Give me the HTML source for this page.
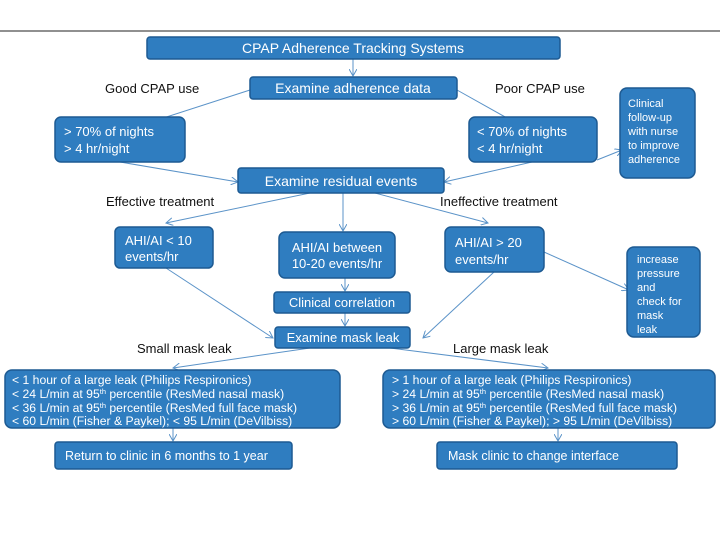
<!DOCTYPE html>
<html><head><meta charset="utf-8"><style>
html,body{margin:0;padding:0;background:#fff;}
svg{display:block;font-family:"Liberation Sans",sans-serif;}
.b{fill:#2f7dc0;stroke:#1d5a92;stroke-width:1.5;}
.t{fill:#fff;}
.l{stroke:#5b93c8;stroke-width:1;fill:none;marker-end:url(#a);}
.k{fill:#111;font-size:13px;}
</style></head><body>
<svg width="720" height="540" viewBox="0 0 720 540">
<defs><marker id="a" markerWidth="8" markerHeight="8" refX="7" refY="4" orient="auto"><path d="M0,0 L7,4 L0,8" fill="none" stroke="#5b93c8" stroke-width="1"/></marker></defs>
<line x1="0" y1="31" x2="720" y2="31" stroke="#222" stroke-width="1"/>
<path class="l" d="M353,59 L353,76"/>
<path class="l" d="M250,90 L120,132"/>
<path class="l" d="M457,90 L532,132"/>
<path class="l" d="M597,160 L622,150"/>
<path class="l" d="M120,162 L238,182"/>
<path class="l" d="M532,162 L444,182"/>
<path class="l" d="M310,193 L166,223"/>
<path class="l" d="M343,193 L343,231"/>
<path class="l" d="M375,193 L488,223"/>
<path class="l" d="M544,252 L629,290"/>
<path class="l" d="M345,278 L345,291"/>
<path class="l" d="M345,313 L345,326"/>
<path class="l" d="M166,268 L273,338"/>
<path class="l" d="M494,272 L423,338"/>
<path class="l" d="M310,348 L173,368"/>
<path class="l" d="M390,348 L548,368"/>
<path class="l" d="M173,428 L173,441"/>
<path class="l" d="M558,428 L558,441"/>
<rect class="b" x="147" y="37" width="413" height="22" rx="3"/>
<text class="t" x="353" y="53" font-size="14" text-anchor="middle">CPAP Adherence Tracking Systems</text>
<rect class="b" x="250" y="77" width="207" height="22" rx="3"/>
<text class="t" x="353" y="93" font-size="14" text-anchor="middle">Examine adherence data</text>
<text class="k" x="105" y="93">Good CPAP use</text>
<text class="k" x="495" y="93">Poor CPAP use</text>
<rect class="b" x="55" y="117" width="130" height="45" rx="6"/>
<text class="t" x="64" y="136" font-size="13">&gt; 70% of nights</text>
<text class="t" x="64" y="153" font-size="13">&gt; 4 hr/night</text>
<rect class="b" x="469" y="117" width="128" height="45" rx="6"/>
<text class="t" x="477" y="136" font-size="13">&lt; 70% of nights</text>
<text class="t" x="477" y="153" font-size="13">&lt; 4 hr/night</text>
<rect class="b" x="620" y="88" width="75" height="90" rx="7"/>
<g class="t" font-size="11"><text x="628" y="107">Clinical</text><text x="628" y="121">follow-up</text><text x="628" y="135">with nurse</text><text x="628" y="149">to improve</text><text x="628" y="163">adherence</text></g>
<rect class="b" x="238" y="168" width="206" height="25" rx="3"/>
<text class="t" x="341" y="186" font-size="14" text-anchor="middle">Examine residual events</text>
<text class="k" x="106" y="206">Effective treatment</text>
<text class="k" x="440" y="206">Ineffective treatment</text>
<rect class="b" x="115" y="227" width="98" height="41" rx="5"/>
<text class="t" x="125" y="245" font-size="13">AHI/AI &lt; 10</text>
<text class="t" x="125" y="261" font-size="13">events/hr</text>
<rect class="b" x="279" y="232" width="116" height="46" rx="6"/>
<text class="t" x="337" y="252" font-size="13" text-anchor="middle">AHI/AI between</text>
<text class="t" x="337" y="268" font-size="13" text-anchor="middle">10-20 events/hr</text>
<rect class="b" x="445" y="227" width="99" height="45" rx="6"/>
<text class="t" x="455" y="247" font-size="13">AHI/AI &gt; 20</text>
<text class="t" x="455" y="264" font-size="13">events/hr</text>
<rect class="b" x="627" y="247" width="73" height="90" rx="7"/>
<g class="t" font-size="11"><text x="637" y="263">increase</text><text x="637" y="277">pressure</text><text x="637" y="291">and</text><text x="637" y="305">check for</text><text x="637" y="319">mask</text><text x="637" y="333">leak</text></g>
<rect class="b" x="274" y="292" width="136" height="21" rx="3"/>
<text class="t" x="342" y="307" font-size="13" text-anchor="middle">Clinical correlation</text>
<rect class="b" x="275" y="327" width="135" height="21" rx="3"/>
<text class="t" x="343" y="342" font-size="13" text-anchor="middle">Examine mask leak</text>
<text class="k" x="137" y="353">Small mask leak</text>
<text class="k" x="453" y="353">Large mask leak</text>
<rect class="b" x="5" y="370" width="335" height="58" rx="7"/>
<g class="t" font-size="12.2"><text x="12" y="384">&lt; 1 hour of a large leak (Philips Respironics)</text>
<text x="12" y="398">&lt; 24 L/min at 95<tspan font-size="7.5" dy="-4">th</tspan><tspan dy="4"> percentile (ResMed nasal mask)</tspan></text>
<text x="12" y="412">&lt; 36 L/min at 95<tspan font-size="7.5" dy="-4">th</tspan><tspan dy="4"> percentile (ResMed full face mask)</tspan></text>
<text x="12" y="425">&lt; 60 L/min (Fisher &amp; Paykel); &lt; 95 L/min (DeVilbiss)</text></g>
<rect class="b" x="383" y="370" width="332" height="58" rx="7"/>
<g class="t" font-size="12.2"><text x="392" y="384">&gt; 1 hour of a large leak (Philips Respironics)</text>
<text x="392" y="398">&gt; 24 L/min at 95<tspan font-size="7.5" dy="-4">th</tspan><tspan dy="4"> percentile (ResMed nasal mask)</tspan></text>
<text x="392" y="412">&gt; 36 L/min at 95<tspan font-size="7.5" dy="-4">th</tspan><tspan dy="4"> percentile (ResMed full face mask)</tspan></text>
<text x="392" y="425">&gt; 60 L/min (Fisher &amp; Paykel); &gt; 95 L/min (DeVilbiss)</text></g>
<rect class="b" x="55" y="442" width="237" height="27" rx="3"/>
<text class="t" x="65" y="460" font-size="12.5">Return to clinic in 6 months to 1 year</text>
<rect class="b" x="437" y="442" width="240" height="27" rx="3"/>
<text class="t" x="448" y="460" font-size="12.5">Mask clinic  to change interface</text>
</svg>
</body></html>
